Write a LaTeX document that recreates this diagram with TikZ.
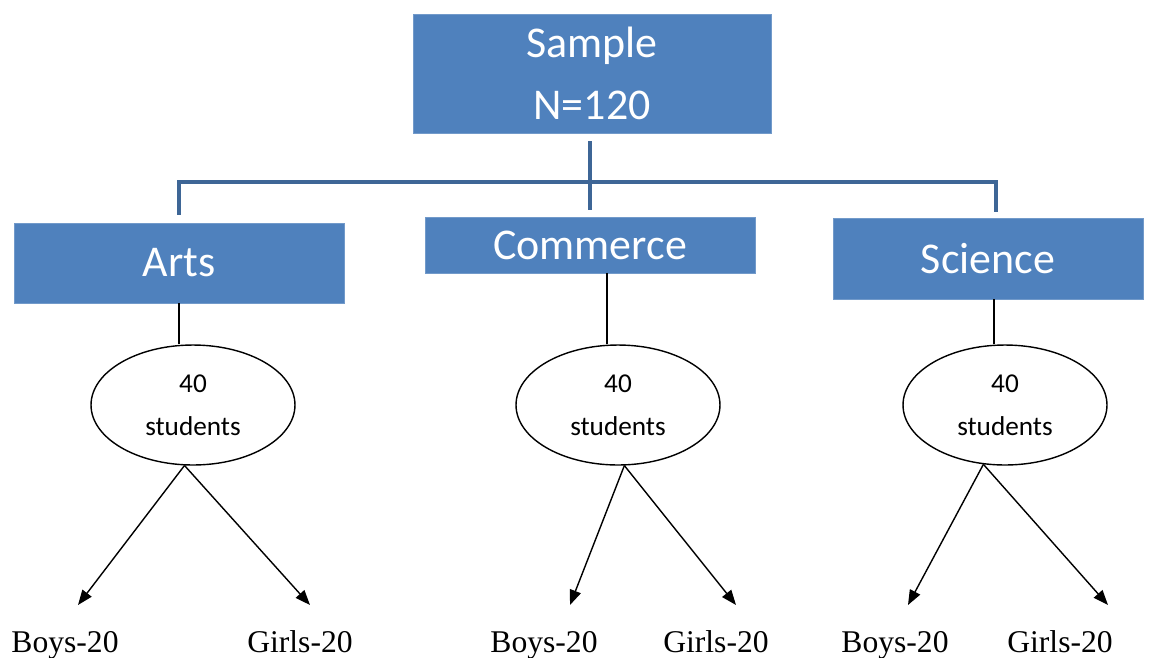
\documentclass[tikz,border=0pt]{standalone}
\usepackage{fontspec}
\setmainfont{Liberation Serif}
\newfontfamily\calibri{Carlito}
\usetikzlibrary{arrows.meta,shapes.geometric}
\definecolor{boxblue}{RGB}{79,129,189}
\definecolor{busblue}{RGB}{62,102,150}

\begin{document}
\begin{tikzpicture}[x=0.02cm,y=-0.02cm,
    bluebox/.style={rectangle, fill=boxblue, draw=boxblue!80!white, text=white,
      align=center, inner sep=0pt, font=\calibri\fontsize{25}{35}\selectfont},
    group/.style={ellipse, draw, line width=0.8pt, minimum width=4.08cm,
      minimum height=2.4cm, inner sep=0pt, align=center,
      font=\calibri\fontsize{15.5}{24.5}\selectfont},
    count/.style={anchor=base, inner sep=0pt, font=\fontsize{18}{20}\selectfont},
    bus/.style={busblue, line width=2.8pt},
    link/.style={line width=0.8pt},
    split/.style={line width=0.8pt, -{Triangle[length=8.5pt,width=6.5pt]}}]
    \useasboundingbox (0,0) rectangle (1154,657);
    \node[bluebox, minimum width=7.16cm, minimum height=2.38cm] (sample) at (592,73.5) {Sample\\N=120};
    \node[bluebox, minimum width=6.6cm, minimum height=1.6cm] (arts) at (179,263) {Arts};
    \node[bluebox, minimum width=6.6cm, minimum height=1.12cm] (commerce) at (590,245) {Commerce};
    \node[bluebox, minimum width=6.2cm, minimum height=1.62cm] (science) at (988,258.5) {Science};
    \node[group] (e1) at (193,405) {40\\students};
    \node[group] (e2) at (618,405) {40\\students};
    \node[group] (e3) at (1005,405) {40\\students};
    \node[count] (b1) at (65,652) {Boys-20};
    \node[count] (g1) at (300,652) {Girls-20};
    \node[count] (b2) at (544,652) {Boys-20};
    \node[count] (g2) at (716,652) {Girls-20};
    \node[count] (b3) at (895,652) {Boys-20};
    \node[count] (g3) at (1060,652) {Girls-20};
    \coordinate (hub) at (590,182);
    \coordinate (tb1) at (78,605);
    \coordinate (tg1) at (310,605);
    \coordinate (tb2) at (570,605);
    \coordinate (tg2) at (736,605);
    \coordinate (tb3) at (908,605);
    \coordinate (tg3) at (1108,605);
    % sample to the three streams
    \draw[bus] ([yshift=-0.16cm]sample.south -| hub) -- ([yshift=0.14cm]commerce.north -| hub);
    \draw[bus] ([yshift=0.16cm]arts.north) |- (hub) -| ([xshift=0.16cm,yshift=0.12cm]science.north);
    % streams to groups
    \draw[link] (arts.south) -- (arts.south |- e1.north);
    \draw[link] ([xshift=0.34cm]commerce.south) -- ([xshift=0.34cm]commerce.south |- e2.north);
    \draw[link] ([xshift=0.12cm]science.south) -- ([xshift=0.12cm]science.south |- e3.north);
    % groups to boys and girls
    \draw[split] (e1.-98) -- (tb1);
    \draw[split] (e1.-98) -- (tg1);
    \draw[split] (e2.-84) -- (tb2);
    \draw[split] (e2.-84) -- (tg2);
    \draw[split] (e3.-110) -- (tb3);
    \draw[split] (e3.-110) -- (tg3);
\end{tikzpicture}
\end{document}
